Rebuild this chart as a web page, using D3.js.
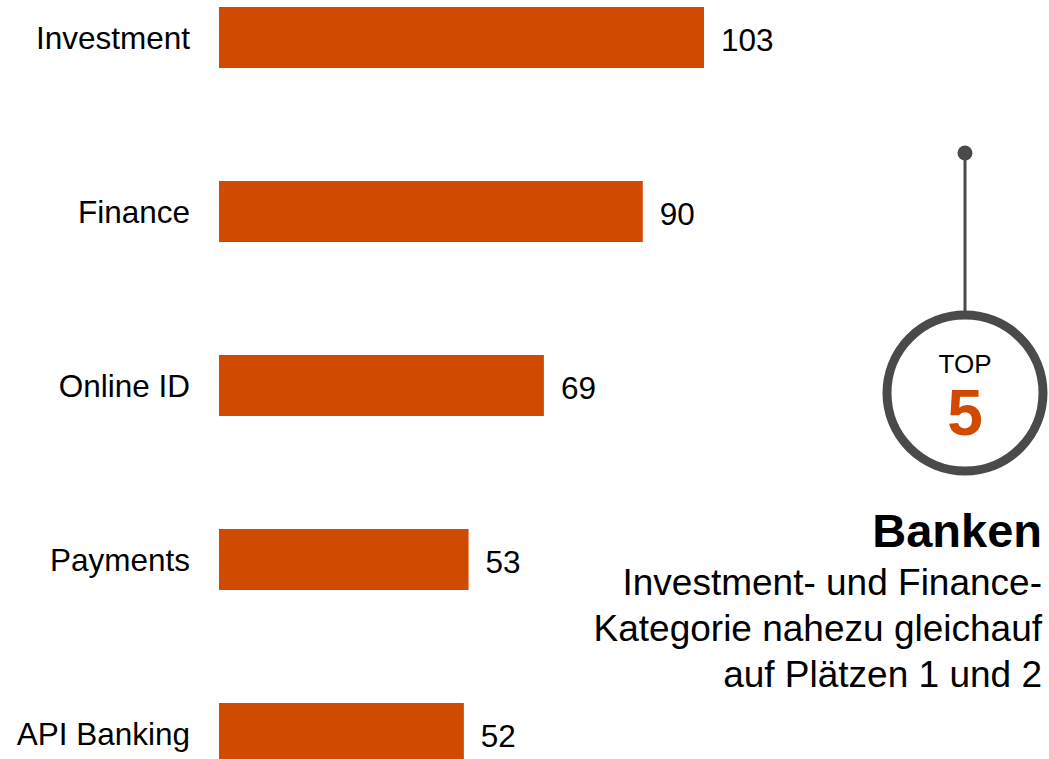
<!DOCTYPE html>
<html lang="de">
<head>
    <meta charset="UTF-8">
    <script src="https://cdn.jsdelivr.net/npm/d3@7"></script>
    <title>Banken Top 5</title>
    <style>
        body { margin: 0; background: #ffffff; }
        svg { display: block; font-family: "Liberation Sans", Arial, sans-serif; }
    </style>
</head>
<body>
<svg width="1049" height="759" viewBox="0 0 1049 759"></svg>

<script>
    const WIDTH = 1049;
    const HEIGHT = 759;
    const ORANGE = "#d04a02";
    const GREY = "#4a4a4a";

    const categories = ["Investment", "Finance", "Online ID", "Payments", "API Banking"];
    const values = [103, 90, 69, 53, 52];
    const badgeTop = "TOP";
    const badgeNumber = "5";
    const title = "Banken";
    const subtitleLines = ["Investment- und Finance-", "Kategorie nahezu gleichauf", "auf Plätzen 1 und 2"];

    const svg = d3.select("svg");

    function init() {
        const data = categories.map((c, i) => ({ category: c, value: values[i] }));
        const [x, y] = makeScales(data);
        drawBars(data, x, y);
        drawBadge();
        drawText();
    }

    function makeScales(data) {
        const x = d3.scaleLinear()
            .domain([0, d3.max(data, d => d.value)])
            .range([219, 704]);

        const y = d3.scaleBand()
            .domain(data.map(d => d.category))
            .range([7, 764])
            .paddingInner(113 / 174)
            .paddingOuter(0);

        return [x, y];
    }

    function drawBars(data, x, y) {
        const rows = svg.selectAll("g.row")
            .data(data)
            .enter()
            .append("g")
            .attr("class", "row");

        rows.append("rect")
            .attr("x", x(0))
            .attr("y", d => y(d.category))
            .attr("width", d => x(d.value) - x(0))
            .attr("height", y.bandwidth())
            .style("fill", ORANGE);

        rows.append("text")
            .attr("x", 190)
            .attr("y", d => y(d.category) + y.bandwidth() / 2)
            .attr("text-anchor", "end")
            .attr("dominant-baseline", "central")
            .style("font-size", "31.5px")
            .style("fill", "#000")
            .text(d => d.category);

        rows.append("text")
            .attr("x", d => x(d.value) + 17)
            .attr("y", d => y(d.category) + y.bandwidth() / 2 + 2)
            .attr("dominant-baseline", "central")
            .style("font-size", "31.5px")
            .style("fill", "#000")
            .text(d => d.value);
    }

    function drawBadge() {
        const cx = 965;
        const cy = 393;

        svg.append("line")
            .attr("x1", cx).attr("x2", cx)
            .attr("y1", 153).attr("y2", cy - 78)
            .style("stroke", GREY)
            .style("stroke-width", 3);

        svg.append("circle")
            .attr("cx", cx).attr("cy", 153).attr("r", 7.5)
            .style("fill", GREY);

        svg.append("circle")
            .attr("cx", cx).attr("cy", cy).attr("r", 78)
            .style("fill", "#fff")
            .style("stroke", GREY)
            .style("stroke-width", 9);

        svg.append("text")
            .attr("x", cx).attr("y", 373)
            .attr("text-anchor", "middle")
            .style("font-size", "26px")
            .style("fill", "#000")
            .text(badgeTop);

        svg.append("text")
            .attr("x", cx).attr("y", 435)
            .attr("text-anchor", "middle")
            .style("font-size", "64px")
            .style("font-weight", "bold")
            .style("fill", ORANGE)
            .text(badgeNumber);
    }

    function drawText() {
        svg.append("text")
            .attr("x", 1042).attr("y", 547)
            .attr("text-anchor", "end")
            .style("font-size", "47px")
            .style("font-weight", "bold")
            .style("fill", "#000")
            .text(title);

        svg.append("g")
            .selectAll("text")
            .data(subtitleLines)
            .enter()
            .append("text")
            .attr("x", 1042)
            .attr("y", (d, i) => 595 + i * 46)
            .attr("text-anchor", "end")
            .style("font-size", "37px")
            .style("fill", "#000")
            .text(d => d);
    }

    init();
</script>
</body>
</html>
